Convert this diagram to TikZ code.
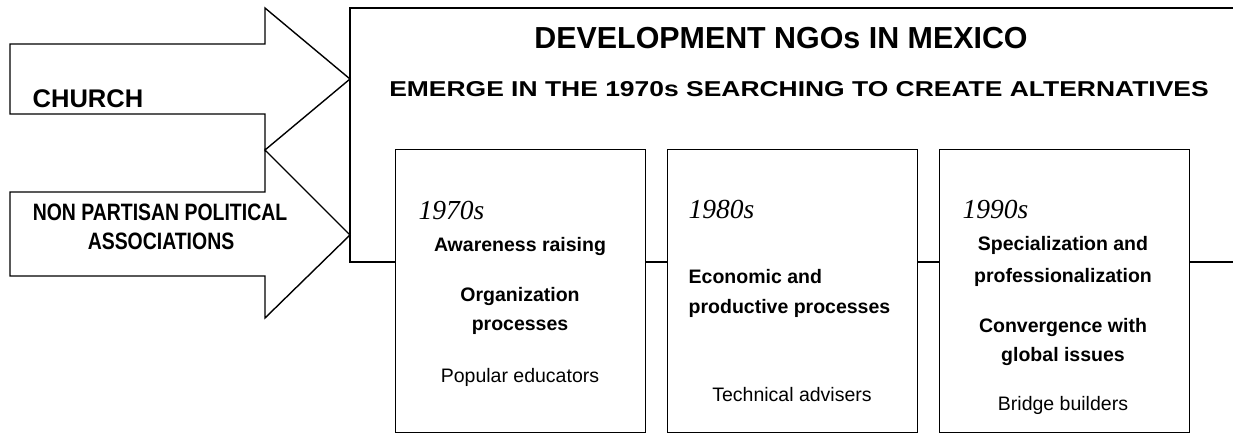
\documentclass[tikz,border=0pt]{standalone}
\usepackage{graphicx}
\usepackage{fontspec}
\setmainfont{Liberation Sans}
\newfontfamily\yearfont{Liberation Serif}
\begin{document}
\begin{tikzpicture}[x=1pt,y=-1pt,
  line width=1.4pt, line join=miter,
  outline/.style={draw=black, fill=white},
  period/.style={outline, rectangle, inner sep=0pt, minimum width=250pt, minimum height=283pt, anchor=north west},
  yearlbl/.style={anchor=base west, inner sep=0pt, font=\yearfont\itshape\fontsize{27.5}{30}\selectfont},
  bodybold/.style={anchor=base, inner sep=0pt, font=\bfseries\fontsize{19.5}{30}\selectfont},
  bodyplain/.style={anchor=base, inner sep=0pt, font=\fontsize{19.5}{30}\selectfont},
  headline/.style={anchor=base, inner sep=0pt, font=\bfseries\fontsize{#1}{#1}\selectfont}
]
\useasboundingbox (0,0) rectangle (1233,433);

% frame of the NGO panel, running off the right edge
\coordinate (frameTL) at (350,8);
\coordinate (frameBR) at (1245,262);
\begin{scope}
  \clip (0,0) rectangle (1233,433);
  \draw (frameTL) rectangle (frameBR);
\end{scope}

% incoming block arrows
\draw[outline] (10,44) -- (265,44) -- (265,8) -- (350,79) -- (265,150) -- (265,114) -- (10,114) -- cycle;
\draw[outline] (10,192) -- (265,192) -- (265,150) -- (350,235) -- (265,318) -- (265,276) -- (10,276) -- cycle;
\node[anchor=base west, inner sep=0pt, font=\bfseries\fontsize{25.5}{25}\selectfont] (church) at (32,107) {CHURCH};
\node[headline=23.7] (npa1) at (160,220) {\scalebox{0.82}[1]{NON PARTISAN POLITICAL}};
\node[headline=23.7] (npa2) at (161,249) {\scalebox{0.82}[1]{ASSOCIATIONS}};

% panel headings
\node[headline=30.4] (title) at (781,49) {DEVELOPMENT NGOs IN MEXICO};
\node[headline=21.5] (subtitle) at (799,97) {\scalebox{1.23}[1]{EMERGE IN THE 1970s SEARCHING TO CREATE ALTERNATIVES}};

% decade boxes
\node[period] (p70) at (395,149) {};
\node[period] (p80) at (667,149) {};
\node[period] (p90) at (939,149) {};

% 1970s
\node[yearlbl] (y70) at (418,219) {1970s};
\node[bodybold] (a1) at (520,251) {Awareness raising};
\node[bodybold] (a2) at (520,301) {Organization};
\node[bodybold] (a3) at (520,330) {processes};
\node[bodyplain] (a4) at (520,382) {Popular educators};

% 1980s
\node[yearlbl] (y80) at (688,218) {1980s};
\node[bodybold, anchor=base west] (b1) at (688,283) {Economic and};
\node[bodybold, anchor=base west] (b2) at (688,313) {productive processes};
\node[bodyplain] (b3) at (792,401) {Technical advisers};

% 1990s
\node[yearlbl] (y90) at (962,218) {1990s};
\node[bodybold] (c1) at (1063,250) {Specialization and};
\node[bodybold] (c2) at (1063,282) {professionalization};
\node[bodybold] (c3) at (1063,332) {Convergence with};
\node[bodybold] (c4) at (1063,361) {global issues};
\node[bodyplain] (c5) at (1063,410) {Bridge builders};
\end{tikzpicture}
\end{document}
